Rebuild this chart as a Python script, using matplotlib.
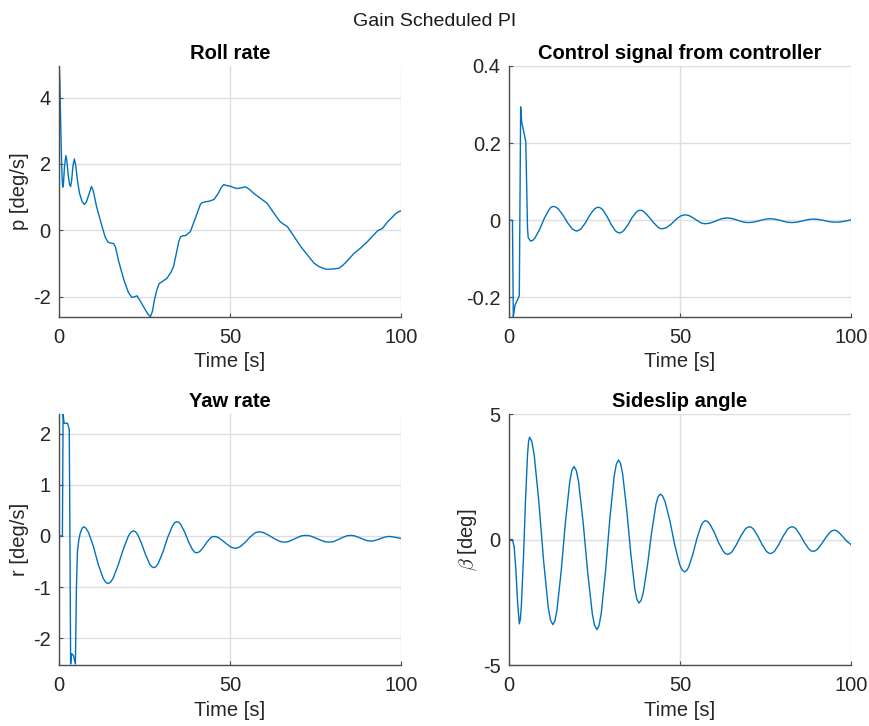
import matplotlib.pyplot as plt

plt.rcParams['font.family'] = ['Liberation Sans', 'DejaVu Sans']
plt.rcParams['mathtext.fontset'] = 'cm'

# Roll rate p [deg/s] as (time, value)
p_points = [
    (0, 2.1), (0.08, 4.95), (0.25, 4.5), (0.5, 3.2), (0.75, 2.1), (0.95, 1.5), (1.1, 1.3),
    (1.3, 1.4), (1.6, 1.9), (2.0, 2.25), (2.3, 2.1), (2.7, 1.65), (3.1, 1.38), (3.4, 1.32),
    (3.7, 1.5), (4.1, 1.95), (4.5, 2.15), (4.9, 1.95), (5.4, 1.5), (6.0, 1.12), (6.7, 0.88),
    (7.4, 0.78), (8.0, 0.85), (8.8, 1.1), (9.5, 1.32), (10.0, 1.2), (11, 0.71), (12.5, 0.15),
    (13.5, -0.2), (14.3, -0.35), (15, -0.38), (16.0, -0.4), (16.5, -0.5), (17.5, -0.95),
    (19, -1.5), (20.3, -1.87), (21.3, -2.02), (22.1, -2.0), (22.8, -1.97), (23.6, -2.1),
    (25.0, -2.35), (26.0, -2.52), (26.7, -2.6), (27.3, -2.45), (27.9, -2.1), (28.6, -1.8),
    (29.3, -1.6), (30.1, -1.55), (31.6, -1.44), (32.8, -1.25), (33.5, -1.09), (34.3, -0.7),
    (35.0, -0.35), (35.5, -0.2), (36.3, -0.16), (37, -0.16), (38.4, -0.04), (40, 0.4),
    (41.3, 0.77), (41.8, 0.83), (42.8, 0.86), (44.0, 0.88), (45.3, 0.93), (46.5, 1.1),
    (47.5, 1.3), (48.2, 1.38), (49, 1.35), (50.1, 1.33), (51, 1.29), (52.1, 1.26),
    (53.2, 1.28), (54.5, 1.31), (55.5, 1.25), (57, 1.11), (59, 0.96), (60.9, 0.81),
    (62.9, 0.51), (64.5, 0.28), (65.3, 0.21), (66.8, 0.11), (68.5, -0.15), (70.7, -0.49),
    (72.8, -0.76), (74.6, -0.99), (76, -1.09), (77, -1.13), (78, -1.17), (79, -1.17),
    (80.5, -1.16), (81.9, -1.14), (83, -1.05), (84, -0.95), (86.3, -0.69), (88, -0.55),
    (90.2, -0.34), (91.7, -0.17), (93.2, -0.01), (94.6, 0.06), (96.1, 0.26), (97.3, 0.38),
    (98.5, 0.51), (99.3, 0.56), (100, 0.59),
]

# Control signal u
u_points = [
    (0, 0), (1.0, 0), (1.25, -0.25), (1.5, -0.235), (1.75, -0.22), (3.0, -0.196),
    (3.4, 0.294), (3.7, 0.255), (4.9, 0.204), (5.4, -0.02), (5.6, -0.045), (6.3, -0.054),
    (6.97, -0.052), (7.64, -0.045), (8.98, -0.023), (10.32, 0.005), (11.66, 0.027),
    (12.33, 0.034), (13.0, 0.036), (13.68, 0.034), (14.36, 0.030), (15.72, 0.014),
    (17.08, -0.006), (18.44, -0.022), (19.12, -0.026), (19.8, -0.028), (20.43, -0.026),
    (21.06, -0.022), (22.32, -0.007), (23.58, 0.013), (24.84, 0.028), (25.47, 0.032),
    (26.1, 0.034), (26.72, 0.032), (27.34, 0.028), (28.58, 0.011), (29.82, -0.010),
    (31.06, -0.027), (31.68, -0.031), (32.3, -0.033), (32.9, -0.031), (33.5, -0.027),
    (34.7, -0.013), (35.9, 0.006), (37.1, 0.020), (37.7, 0.0245), (38.3, 0.026),
    (38.94, 0.025), (39.58, 0.021), (40.86, 0.009), (42.14, -0.005), (43.42, -0.017),
    (44.06, -0.021), (44.7, -0.022), (45.38, -0.021), (46.06, -0.019), (47.42, -0.010),
    (48.78, 0.002), (50.14, 0.011), (50.82, 0.013), (51.5, 0.014), (52.09, 0.0134),
    (52.68, 0.012), (53.86, 0.006), (55.04, -0.001), (56.22, -0.007), (56.81, -0.0084),
    (57.4, -0.009), (58.66, -0.0076), (59.92, -0.0038), (61.18, 0.0008), (62.44, 0.0046),
    (63.7, 0.006), (64.96, 0.0049), (66.22, 0.0019), (67.48, -0.0019), (68.74, -0.0049),
    (70.0, -0.006), (71.28, -0.005), (72.56, -0.0025), (73.84, 0.0005), (75.12, 0.003),
    (76.4, 0.004), (77.66, 0.003), (78.92, 0.0005), (80.18, -0.0025), (81.44, -0.005),
    (82.7, -0.006), (83.98, -0.005), (85.26, -0.0029), (86.54, -0.0001), (87.82, 0.0021),
    (89.1, 0.003), (90.36, 0.0022), (91.62, 0.0002), (92.88, -0.0022), (94.14, -0.0042),
    (95.4, -0.005), (96.6, -0.0045), (97.8, -0.003), (99.0, -0.001), (100, 0.001),
]

# Yaw rate r [deg/s]
r_points = [
    (0, 0), (1.0, 0), (1.2, 2.38), (1.5, 2.2), (2.5, 2.2), (3.0, 2.08), (3.2, 0),
    (3.4, -2.5), (3.7, -2.3), (4.2, -2.33), (4.8, -2.5), (5.1, -1.0), (5.4, -0.3),
    (5.8, -0.08), (6.2, 0.05), (6.7, 0.14), (7.2, 0.18), (7.91, 0.15), (8.62, 0.07),
    (10.04, -0.20), (11.46, -0.55), (12.88, -0.82), (13.59, -0.90), (14.3, -0.93),
    (15.05, -0.905), (15.8, -0.83), (17.3, -0.57), (18.8, -0.26), (20.3, 0.0),
    (21.05, 0.075), (21.8, 0.10), (22.39, 0.08), (22.98, 0.03), (24.16, -0.15),
    (25.34, -0.37), (26.52, -0.55), (27.11, -0.60), (27.7, -0.62), (28.38, -0.60),
    (29.06, -0.53), (30.42, -0.31), (31.78, -0.03), (33.14, 0.19), (33.82, 0.26),
    (34.5, 0.28), (35.07, 0.265), (35.64, 0.22), (36.78, 0.07), (37.92, -0.12),
    (39.06, -0.27), (39.63, -0.315), (40.2, -0.33), (40.71, -0.32), (41.22, -0.30),
    (42.24, -0.22), (43.26, -0.12), (44.28, -0.04), (44.79, -0.018), (45.3, -0.01),
    (45.93, -0.016), (46.56, -0.03), (47.82, -0.09), (49.08, -0.16), (50.34, -0.22),
    (50.97, -0.234), (51.6, -0.24), (52.29, -0.232), (52.98, -0.21), (54.36, -0.13),
    (55.74, -0.03), (57.12, 0.05), (57.81, 0.072), (58.5, 0.08), (59.23, 0.075),
    (59.96, 0.06), (61.42, 0.01), (62.88, -0.05), (64.34, -0.10), (65.07, -0.115),
    (65.8, -0.12), (66.43, -0.117), (67.06, -0.11), (68.32, -0.075), (69.58, -0.035),
    (70.84, 0.0), (71.47, 0.007), (72.1, 0.01), (72.79, 0.007), (73.48, 0.0),
    (74.86, -0.035), (76.24, -0.075), (77.62, -0.11), (78.31, -0.117), (79.0, -0.12),
    (79.63, -0.117), (80.26, -0.11), (81.52, -0.075), (82.78, -0.035), (84.04, 0.0),
    (84.67, 0.007), (85.3, 0.01), (85.89, 0.007), (86.48, 0.0), (87.66, -0.028),
    (88.84, -0.062), (90.02, -0.09), (90.61, -0.097), (91.2, -0.10), (91.74, -0.098),
    (92.28, -0.09), (93.36, -0.069), (94.44, -0.041), (95.52, -0.019), (96.06, -0.012),
    (96.6, -0.01), (97.8, -0.02), (99.0, -0.035), (100, -0.05),
]

# Sideslip angle beta [deg]
beta_points = [
    (0, 0), (1.0, 0), (1.5, -0.3), (2.0, -1.2), (2.5, -2.5), (3.0, -3.36), (3.3, -3.18),
    (3.6, -2.65), (4.2, -0.79), (4.8, 1.51), (5.4, 3.37), (5.7, 3.90), (6.0, 4.08),
    (6.68, 3.90), (7.36, 3.37), (8.72, 1.50), (10.08, -0.81), (11.44, -2.68),
    (12.12, -3.21), (12.8, -3.39), (13.42, -3.24), (14.04, -2.79), (15.28, -1.21),
    (16.52, 0.73), (17.76, 2.31), (18.38, 2.76), (19.0, 2.91), (19.67, 2.75),
    (20.34, 2.29), (21.68, 0.66), (23.02, -1.34), (24.36, -2.97), (25.03, -3.43),
    (25.7, -3.59), (26.33, -3.42), (26.96, -2.94), (28.22, -1.25), (29.48, 0.83),
    (30.74, 2.52), (31.37, 3.0), (32.0, 3.17), (32.6, 3.03), (33.2, 2.63), (34.4, 1.20),
    (35.6, -0.56), (36.8, -1.99), (37.4, -2.39), (38.0, -2.53), (38.62, -2.42),
    (39.24, -2.12), (40.48, -1.03), (41.72, 0.31), (42.96, 1.40), (43.58, 1.70),
    (44.2, 1.81), (44.91, 1.73), (45.62, 1.51), (47.04, 0.74), (48.46, -0.22),
    (49.88, -0.99), (50.59, -1.21), (51.3, -1.29), (51.91, -1.24), (52.52, -1.10),
    (53.74, -0.59), (54.96, 0.05), (56.18, 0.56), (56.79, 0.70), (57.4, 0.75),
    (58.05, 0.72), (58.7, 0.62), (60.0, 0.29), (61.3, -0.13), (62.6, -0.46),
    (63.25, -0.56), (63.9, -0.59), (64.54, -0.56), (65.18, -0.49), (66.46, -0.21),
    (67.74, 0.13), (69.02, 0.41), (69.66, 0.48), (70.3, 0.51), (70.91, 0.48),
    (71.52, 0.41), (72.74, 0.14), (73.96, -0.19), (75.18, -0.46), (75.79, -0.53),
    (76.4, -0.56), (77.03, -0.53), (77.66, -0.46), (78.92, -0.19), (80.18, 0.14),
    (81.44, 0.41), (82.07, 0.48), (82.7, 0.51), (83.32, 0.49), (83.94, 0.42),
    (85.18, 0.17), (86.42, -0.13), (87.66, -0.38), (88.28, -0.45), (88.9, -0.47),
    (89.52, -0.45), (90.14, -0.39), (91.38, -0.18), (92.62, 0.08), (93.86, 0.29),
    (94.48, 0.35), (95.1, 0.37), (95.7, 0.355), (96.3, 0.30), (97.5, 0.13),
    (98.7, -0.06), (100, -0.2),
]

panels = [
    (p_points, 'Roll rate', 'p [deg/s]', (-2.6, 4.95), [-2, 0, 2, 4], ['-2', '0', '2', '4']),
    (u_points, 'Control signal from controller', None, (-0.25, 0.4),
     [-0.2, 0, 0.2, 0.4], ['-0.2', '0', '0.2', '0.4']),
    (r_points, 'Yaw rate', 'r [deg/s]', (-2.52, 2.38), [-2, -1, 0, 1, 2],
     ['-2', '-1', '0', '1', '2']),
    (beta_points, 'Sideslip angle', r'$\beta$ [deg]', (-5, 5), [-5, 0, 5], ['-5', '0', '5']),
]

positions = [
    [0.0678, 0.5638, 0.3931, 0.3453],
    [0.5851, 0.5638, 0.3931, 0.3453],
    [0.0678, 0.0840, 0.3931, 0.3457],
    [0.5851, 0.0840, 0.3931, 0.3457],
]

fig = plt.figure(figsize=(8.7, 7.26), dpi=100)
fig.text(0.5, 0.971, 'Gain Scheduled PI', ha='center', va='center', fontsize=14, color='#1a1a1a')

for (pts, title, ylab, ylim, yt, ytl), pos in zip(panels, positions):
    tt, yy = zip(*pts)
    ax = fig.add_axes(pos)
    ax.plot(tt, yy, color='#0072BD', lw=1.0)
    ax.set_xlim(0, 100)
    ax.set_ylim(*ylim)
    ax.set_xticks([0, 50, 100])
    ax.set_yticks(yt)
    ax.set_yticklabels(ytl)
    ax.grid(True, color='#dedede', lw=1.0)
    ax.set_axisbelow(True)
    for s in ['top', 'right']:
        ax.spines[s].set_visible(False)
    for s in ['left', 'bottom']:
        ax.spines[s].set_color('#4d4d4d')
        ax.spines[s].set_linewidth(1.0)
    ax.tick_params(direction='in', length=3, width=0.8, colors='#4d4d4d',
                   labelcolor='#262626', labelsize=14.5, pad=6)
    ax.tick_params(axis='x', pad=8)
    ax.set_title(title, fontsize=14.5, fontweight='bold', color='black', pad=5)
    ax.set_xlabel('Time [s]', fontsize=14.5, color='#262626', labelpad=4)
    if ylab:
        ax.set_ylabel(ylab, fontsize=14.5, color='#262626', labelpad=3)

fig.savefig('out.png', dpi=100)
